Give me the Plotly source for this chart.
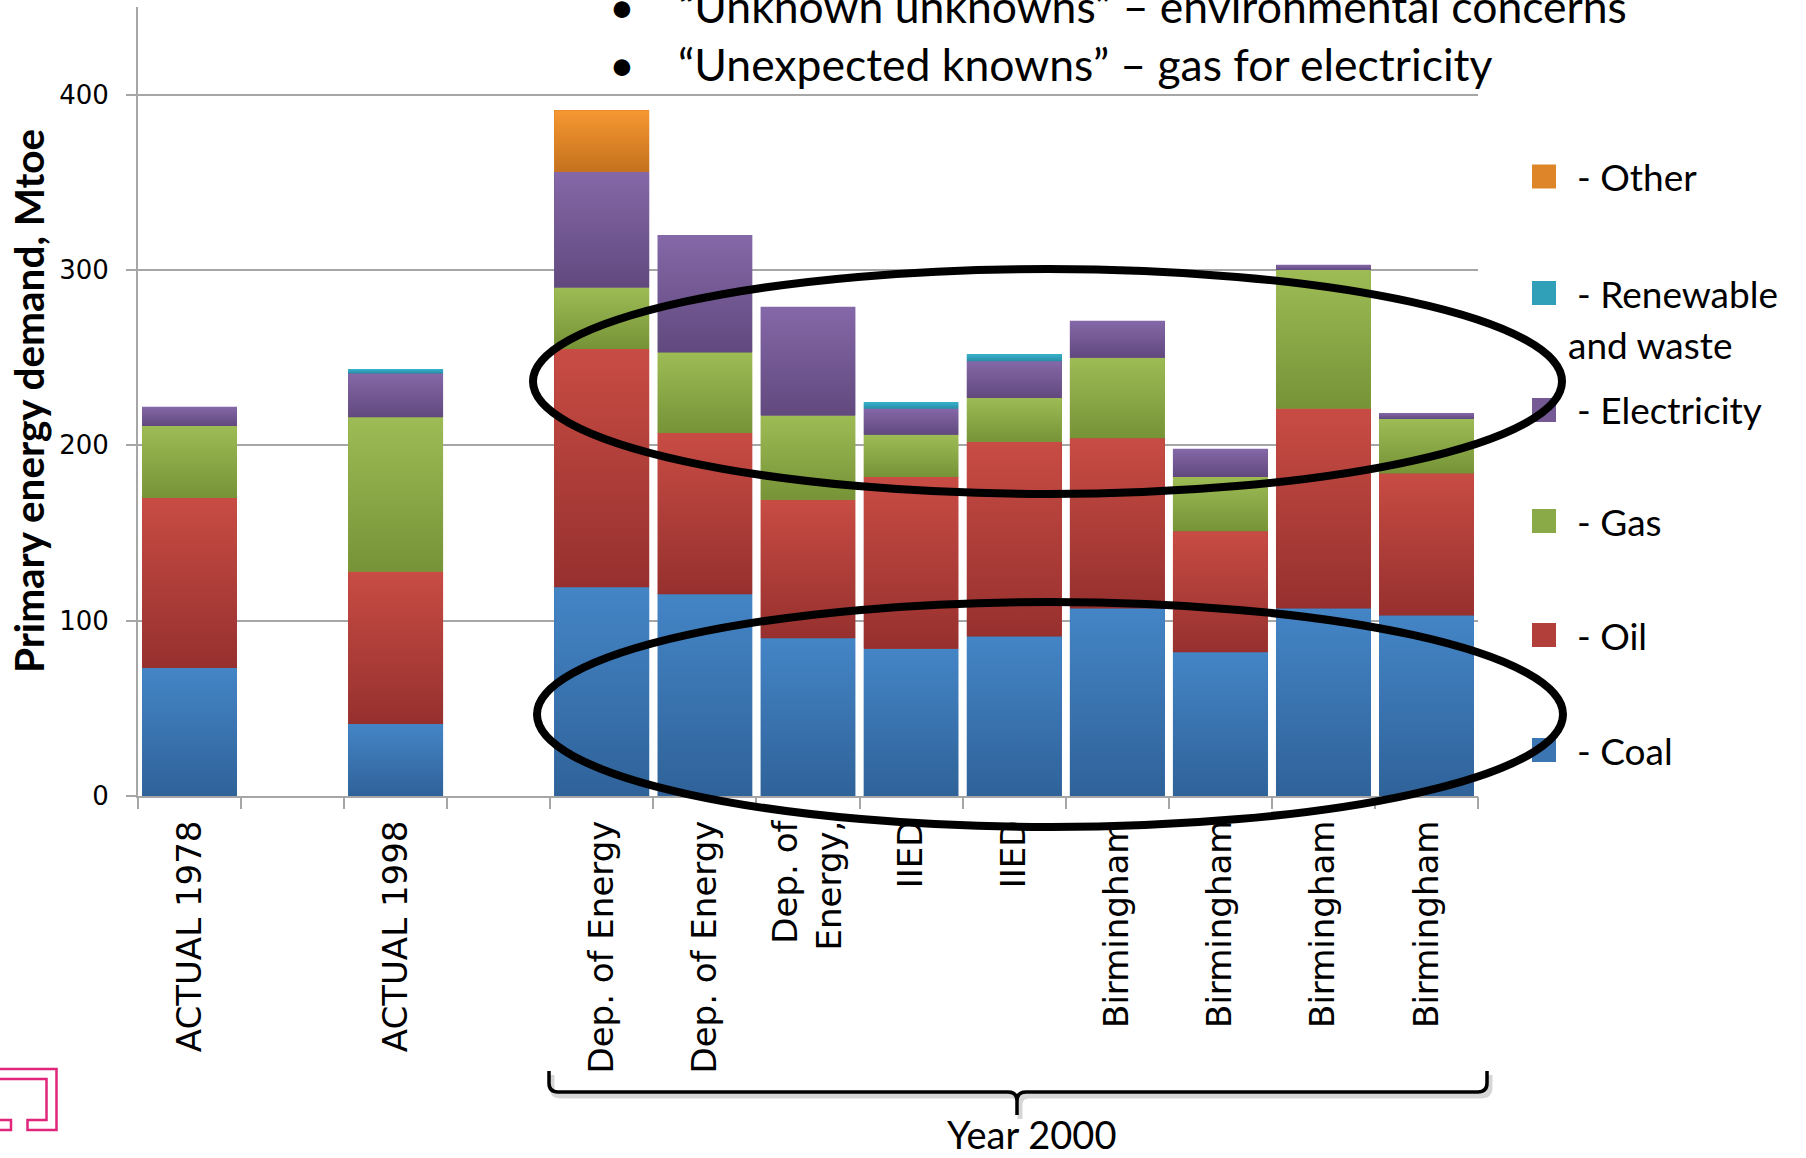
import plotly.graph_objects as go

# Primary energy demand by source (Mtoe): two actual years and nine year-2000 forecasts
sources = ["ACTUAL 1978", "ACTUAL 1998", "Dep. of Energy", "Dep. of Energy",
           "Dep. of<br>Energy,", "IIED", "IIED",
           "Birmingham", "Birmingham", "Birmingham", "Birmingham"]
coal        = [73, 41, 119, 115, 90, 84, 91, 107, 82, 107, 103]
oil         = [97, 87, 136, 92, 79, 98, 111, 97, 69, 114, 81]
gas         = [41, 88, 35, 46, 48, 24, 25, 46, 31, 79, 31]
electricity = [11, 25, 66, 67, 62, 15, 21, 21, 16, 3, 3.5]
renewable   = [0, 2.6, 0, 0, 0, 3.6, 4, 0, 0, 0, 0]
other       = [0, 0, 35, 0, 0, 0, 0, 0, 0, 0, 0]

y_ticks = [0, 100, 200, 300, 400]
bullets = ["\u201cUnknown unknowns\u201d \u2013 environmental concerns",
           "\u201cUnexpected knowns\u201d \u2013 gas for electricity"]

# name, values, flat colour, gradient bottom, gradient top
series = [
    ("Coal", coal, "#3B76B2", "#2F6299", "#4485C6"),
    ("Oil", oil, "#B23F39", "#96302E", "#C84C44"),
    ("Gas", gas, "#8AA947", "#769337", "#9DBC55"),
    ("Electricity", electricity, "#745994", "#61497E", "#8568A8"),
    ("Renewable and waste", renewable, "#30A0B9", "#288EA6", "#39B2CD"),
    ("Other", other, "#DE8429", "#C4711E", "#F69731"),
]

# slot positions: an empty slot follows each of the two actual years
positions = []
slot = 0
for i in range(len(sources)):
    positions.append(slot)
    slot += 2 if i < 2 else 1
n_slots = slot
bar_gap = 0.08
half_w = (1 - bar_gap) / 2

fig = go.Figure()
for name, vals, color, _, _ in series:
    fig.add_trace(go.Bar(
        x=positions, y=vals, name=name, marker=dict(color=color, line=dict(width=0)),
        hovertext=[s.replace("<br>", " ") for s in sources], showlegend=False,
    ))

# shaded fill for each stacked segment (darker at the foot, lighter at the top)
base = [0.0] * len(sources)
for name, vals, color, dark, light in series:
    for i, v in enumerate(vals):
        if v <= 0:
            continue
        b0, b1 = base[i], base[i] + v
        x0, x1 = positions[i] - half_w, positions[i] + half_w
        fig.add_trace(go.Scatter(
            x=[x0, x1, x1, x0, x0], y=[b0, b0, b1, b1, b0],
            mode="lines", line=dict(width=0, color=color), fill="toself",
            fillgradient=dict(type="vertical", colorscale=[[0, dark], [1, light]],
                              start=b0, stop=b1),
            hoverinfo="skip", showlegend=False,
        ))
        base[i] = b1

# tick marks on category boundaries (separate overlay axis)
fig.add_trace(go.Scatter(x=[-0.5, n_slots - 0.5], y=[0, 0], xaxis="x2", mode="markers",
                         marker=dict(opacity=0), hoverinfo="skip", showlegend=False))

# plot-area geometry in page pixels, used to place overlay graphics
L, R, T, B = 138, 1478, 7, 796
W, H = 1806, 1158


def px(x):
    return (x - L) / (R - L)


def py(y):
    return (B - y) / (B - T)


shapes = []
annotations = []

# legend (custom, stacked like the bars)
legend_rows = [
    ("Other", 176.5, ["- Other"]),
    ("Renewable and waste", 293, ["- Renewable", "and waste"]),
    ("Electricity", 410, ["- Electricity"]),
    ("Gas", 521, ["- Gas"]),
    ("Oil", 635, ["- Oil"]),
    ("Coal", 750, ["- Coal"]),
]
color_of = {s[0]: s[2] for s in series}
legend_font = dict(family="Lato, Carlito, sans-serif", size=37, color="black")
for name, cy, lines in legend_rows:
    shapes.append(dict(type="rect", xref="paper", yref="paper",
                       x0=px(1532), x1=px(1556), y0=py(cy + 12), y1=py(cy - 12),
                       fillcolor=color_of[name], line=dict(width=0)))
    annotations.append(dict(xref="paper", yref="paper", x=px(1575), y=py(cy),
                            xanchor="left", yanchor="middle", showarrow=False,
                            text=lines[0], font=legend_font))
    if len(lines) > 1:
        annotations.append(dict(xref="paper", yref="paper", x=px(1566), y=py(cy + 51),
                                xanchor="left", yanchor="middle", showarrow=False,
                                text=lines[1], font=legend_font))

# highlight ellipses
ell = dict(type="circle", xref="paper", yref="paper", layer="above",
           line=dict(color="black", width=8), fillcolor="rgba(0,0,0,0)")
shapes.append(dict(ell, x0=px(533), x1=px(1562), y0=py(494), y1=py(269)))
shapes.append(dict(ell, x0=px(537), x1=px(1563), y0=py(827), y1=py(602)))


def path(points_cmds):
    out = []
    for cmd, pts in points_cmds:
        coords = " ".join(f"{px(x):.5f},{py(y):.5f}" for x, y in pts)
        out.append(f"{cmd}{coords}")
    return " ".join(out)


def brace(dx=0, dy=0):
    def p(x, y):
        return (x + dx, y + dy)
    return path([
        ("M", [p(549, 1071)]), ("L", [p(549, 1083)]), ("Q", [p(549, 1092), p(558, 1092)]),
        ("L", [p(1008, 1092)]), ("Q", [p(1017, 1092), p(1017, 1101)]), ("L", [p(1017, 1115)]),
        ("M", [p(1017, 1101)]), ("Q", [p(1017, 1092), p(1026, 1092)]),
        ("L", [p(1478, 1092)]), ("Q", [p(1487, 1092), p(1487, 1083)]), ("L", [p(1487, 1071)]),
    ])


shapes.append(dict(type="path", xref="paper", yref="paper", path=brace(3, 4),
                   line=dict(color="rgba(0,0,0,0.16)", width=5)))
shapes.append(dict(type="path", xref="paper", yref="paper", path=brace(),
                   line=dict(color="black", width=3.5)))
annotations.append(dict(xref="paper", yref="paper", x=px(1031), y=py(1134),
                        xanchor="center", yanchor="middle", showarrow=False,
                        text="Year 2000", font=dict(family="Lato, sans-serif", size=38, color="black")))

# corner logo outline
logo_col = "#E0257A"
shapes.append(dict(type="path", xref="paper", yref="paper", line=dict(color=logo_col, width=2.5),
                   path=path([("M", [(0, 1069)]), ("L", [(56.5, 1069)]), ("L", [(56.5, 1130)]),
                              ("L", [(27.5, 1130)]), ("L", [(27.5, 1120)]), ("L", [(46.5, 1120)]),
                              ("L", [(46.5, 1079)]), ("L", [(0, 1079)])])))
shapes.append(dict(type="path", xref="paper", yref="paper", line=dict(color=logo_col, width=2.5),
                   path=path([("M", [(0, 1120)]), ("L", [(11, 1120)]), ("L", [(11, 1130)]),
                              ("L", [(0, 1130)])])))

# bullet points above the chart
bullet_font = dict(family="Lato, sans-serif", size=44.5, color="black")
for line, cy in zip(bullets, [6, 63]):
    annotations.append(dict(xref="paper", yref="paper", x=px(622), y=py(cy),
                            xanchor="center", yanchor="middle", showarrow=False,
                            text="\u2022", font=bullet_font))
    annotations.append(dict(xref="paper", yref="paper", x=px(676), y=py(cy),
                            xanchor="left", yanchor="middle", showarrow=False,
                            text=line, font=bullet_font))

# y-axis title
annotations.append(dict(xref="paper", yref="paper", x=px(28), y=py(401),
                        xanchor="center", yanchor="middle", showarrow=False, textangle=-90,
                        text="<b>Primary energy demand, Mtoe</b>",
                        font=dict(family="Lato, sans-serif", size=40.5, color="black")))

axis_grey = "#A6A6A6"
x_range = [-0.5, n_slots - 0.5]
fig.update_layout(
    width=W, height=H,
    margin=dict(l=L, r=W - R, t=T, b=H - B, autoexpand=False),
    paper_bgcolor="white", plot_bgcolor="white",
    barmode="stack", bargap=bar_gap,
    showlegend=False,
    shapes=shapes, annotations=annotations,
    xaxis=dict(
        range=x_range, tickmode="array", tickvals=positions, ticktext=sources,
        ticks="", tickangle=-90, ticklabelstandoff=9,
        tickfont=dict(family="DejaVu Sans, Verdana, sans-serif", size=34, color="black"),
        showline=True, linecolor=axis_grey, linewidth=2, showgrid=False, zeroline=False,
    ),
    xaxis2=dict(
        range=x_range, overlaying="x", anchor="y", side="bottom",
        tickmode="array", tickvals=[k - 0.5 for k in range(n_slots + 1)],
        ticks="outside", ticklen=12, tickwidth=2, tickcolor=axis_grey,
        showticklabels=False, showline=False, showgrid=False, zeroline=False,
    ),
    yaxis=dict(
        range=[0, 450], tickmode="array", tickvals=y_ticks,
        showgrid=True, gridcolor=axis_grey, gridwidth=2, zeroline=False,
        showline=True, linecolor=axis_grey, linewidth=2,
        ticks="outside", ticklen=10, tickwidth=2, tickcolor=axis_grey, ticklabelstandoff=12,
        tickfont=dict(family="DejaVu Sans, Verdana, sans-serif", size=26, color="black"),
    ),
)

fig.write_html("out.html")
